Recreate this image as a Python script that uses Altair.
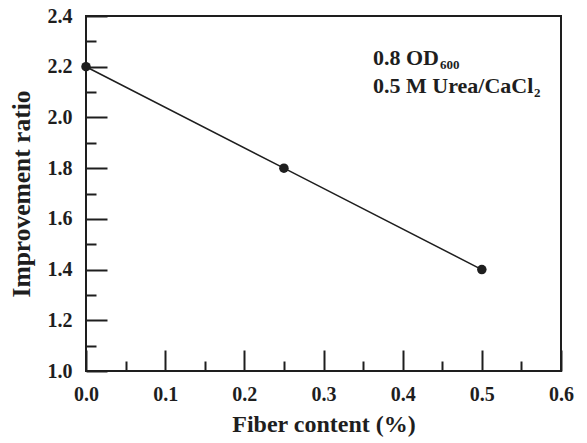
import altair as alt
import pandas as pd

# Measured series
fiber_content = [0.0, 0.25, 0.5]
improvement_ratio = [2.2, 1.8, 1.4]

# Axis tick values
x_major = [0.0, 0.1, 0.2, 0.3, 0.4, 0.5, 0.6]
x_minor = [0.05, 0.15, 0.25, 0.35, 0.45, 0.55]
y_major = [1.0, 1.2, 1.4, 1.6, 1.8, 2.0, 2.2, 2.4]
y_minor = [1.1, 1.3, 1.5, 1.7, 1.9, 2.1, 2.3]

# Condition labels (main text, subscript)
cond1 = ["0.8 OD", "600"]
cond2 = ["0.5 M Urea/CaCl", "2"]

FONT = "Liberation Serif"
INK = "#1e1e1e"
W, H = 475, 355
MAJ, MIN = 21, 10

df = pd.DataFrame({"x": fiber_content, "y": improvement_ratio})

xs = alt.Scale(domain=[0, 0.6], nice=False, zero=False)
ys = alt.Scale(domain=[1.0, 2.4], nice=False, zero=False)

common_axis = dict(domain=False, grid=False, tickColor=INK, tickWidth=2,
                   labelFont=FONT, labelFontWeight="bold", labelFontSize=20,
                   labelColor=INK, labelFlush=False, labelOverlap=False,
                   titleFont=FONT, titleFontWeight="bold", titleColor=INK)

x_axis_major = alt.Axis(orient="bottom", values=x_major, format=".1f",
                        offset=-MAJ, tickSize=MAJ, labelPadding=13,
                        title="Fiber content (%)", titleFontSize=24,
                        titlePadding=8, **common_axis)
y_axis_major = alt.Axis(orient="left", values=y_major, format=".1f",
                        offset=-MAJ, tickSize=MAJ, labelPadding=14,
                        title="Improvement ratio", titleFontSize=25.5,
                        titlePadding=13, **common_axis)
x_axis_minor = alt.Axis(orient="bottom", values=x_minor, offset=-MIN,
                        tickSize=MIN, labels=False, title=None, **common_axis)
y_axis_minor = alt.Axis(orient="left", values=y_minor, offset=-MIN,
                        tickSize=MIN, labels=False, title=None, **common_axis)

line = alt.Chart(df).mark_line(color=INK, strokeWidth=1.5).encode(
    x=alt.X("x:Q", scale=xs, axis=x_axis_major),
    y=alt.Y("y:Q", scale=ys, axis=y_axis_major),
)

points = alt.Chart(df).mark_point(filled=True, color=INK, size=90, opacity=1).encode(
    x=alt.X("x:Q", scale=xs, axis=x_axis_minor),
    y=alt.Y("y:Q", scale=ys, axis=y_axis_minor),
)

# Plot frame around the data area
frame = alt.Chart(pd.DataFrame({"f": [0]})).mark_rect(
    fill=None, stroke=INK, strokeWidth=2
).encode(x=alt.value(0), x2=alt.value(W), y=alt.value(0), y2=alt.value(H))


def label(text, px, py, size):
    return alt.Chart(pd.DataFrame({"t": [text]})).mark_text(
        align="left", baseline="alphabetic", font=FONT, fontWeight="bold",
        fontSize=size, color=INK,
    ).encode(x=alt.value(px), y=alt.value(py), text="t:N")


notes = (label(cond1[0], 287, 49, 22) + label(cond1[1], 354, 53, 13)
         + label(cond2[0], 287, 77, 22) + label(cond2[1], 448, 81, 13))

chart = alt.layer(frame, line, points, notes).resolve_axis(
    x="independent", y="independent"
).properties(
    width=W, height=H,
    autosize=alt.AutoSizeParams(type="none"),
    padding={"left": 86, "top": 16, "right": 26, "bottom": 72},
).configure_view(stroke=None).configure(background="white")

chart.save("out.html", embed_options={"renderer": "svg", "actions": False})
